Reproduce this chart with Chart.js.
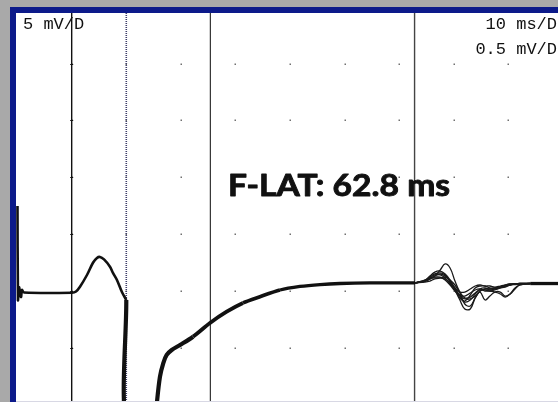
<!DOCTYPE html>
<html>
<head>
<meta charset="utf-8">
<title>F-wave</title>
<script src="https://cdn.jsdelivr.net/npm/chart.js@4/dist/chart.umd.min.js"></script>
<style>
  html, body { margin: 0; padding: 0; background: #a9a9a9; }
  #wrap { position: relative; width: 558px; height: 402px; }
  canvas { display: block; }
</style>
</head>
<body>
<div id="wrap"><canvas id="c" width="558" height="402"></canvas></div>
<script>
// Sweep: 10 ms/div, stimulus at 0 ms, 10 ms pre-trigger
const sweepMs = [-10.2, 89.07];
const gridMs = [0, 10, 20, 30, 40, 50, 60, 70, 80];
// Late-response gain 0.5 mV/div, early (M) gain 5 mV/div
const rangeF = [-0.970, 2.445];
const gridF = [2.0, 1.5, 1.0, 0.5, 0.0, -0.5];
const gainRatio = 10;

// Cursor positions (ms)
const cursorsMs = [0, 10, 25.4];
const fLatency = 62.8;

// Early segment, displayed at 5 mV/D
const mTime = [-9.93, -9.84, -9.65, -9.29, -9.10, -8.74, 0.05, 0.79, 1.52, 2.80, 3.90, 4.63, 5.18, 5.92, 7.01, 7.56, 8.29, 9.20, 10.0];
const mVolt = [7.46, -0.81, 0.33, -0.55, 0.07, -0.15, -0.17, -0.06, 0.36, 1.39, 2.47, 2.89, 2.98, 2.76, 2.12, 1.57, 0.95, -0.11, -0.81];

// Late segment, displayed at 0.5 mV/D (M tail clipped below the screen)
const lTime = [10.0, 10.13, 15.20, 15.62, 16.17, 16.78, 17.40, 18.32, 19.84, 22.22, 25.33, 28.39, 31.37, 34.49, 38.15, 41.81, 45.48, 49.14, 54.63, 62.88, 70.0, 84.0, 89.07];
const lVolt = [-0.081, -1.23, -1.23, -0.98, -0.756, -0.636, -0.565, -0.521, -0.477, -0.404, -0.283, -0.184, -0.107, -0.052, 0.007, 0.038, 0.055, 0.064, 0.069, 0.069, null, 0.064, 0.064];

// Superimposed F responses
const fTime = [62.9, 64.7, 65.6, 66.5, 67.5, 68.4, 69.3, 70.2, 71.1, 72.0, 73.0, 73.9, 74.8, 75.7, 76.6, 77.5, 78.5, 79.4, 80.3, 81.2, 82.1, 84.0];
const fTrace1 = [0.069, 0.086, 0.104, 0.130, 0.183, 0.236, 0.201, 0.086, -0.011, -0.063, -0.055, -0.019, 0.007, 0.007, -0.002, -0.011, -0.028, -0.055, -0.028, 0.025, 0.051, 0.064];
const fTrace2 = [0.069, 0.095, 0.130, 0.165, 0.174, 0.148, 0.095, 0.007, -0.081, -0.160, -0.160, -0.063, -0.002, 0.016, 0.016, 0.025, 0.033, 0.042, 0.051, 0.055, 0.060, 0.064];
const fTrace3 = [0.069, 0.086, 0.113, 0.139, 0.139, 0.113, 0.060, 0.007, -0.063, -0.090, -0.037, 0.025, 0.042, 0.042, 0.025, 0.025, 0.033, 0.042, 0.051, 0.060, 0.060, 0.064];
const fTrace4 = [0.069, 0.086, 0.104, 0.130, 0.148, 0.130, 0.086, 0.025, -0.037, -0.046, -0.019, 0.007, 0.016, -0.002, -0.002, 0.007, 0.025, 0.051, 0.060, 0.060, 0.064, 0.064];
const fTrace5 = [0.069, 0.077, 0.086, 0.104, 0.113, 0.121, 0.095, 0.051, -0.019, -0.116, -0.134, -0.063, -0.002, 0.016, 0.016, 0.016, 0.025, 0.033, 0.051, 0.060, 0.060, 0.064];
const fTrace6 = [0.069, 0.086, 0.104, 0.113, 0.113, 0.104, 0.069, 0.025, -0.011, -0.011, 0.016, 0.042, 0.051, 0.042, 0.042, 0.033, 0.042, 0.051, 0.060, 0.060, 0.064, 0.064];
const fTrace7 = [0.069, 0.095, 0.113, 0.121, 0.121, 0.095, 0.051, -0.002, -0.046, -0.072, -0.072, -0.046, -0.011, -0.081, -0.046, -0.011, -0.011, -0.046, -0.028, 0.016, 0.051, 0.064];
const fTrace8 = [0.069, 0.090, 0.121, 0.148, 0.157, 0.139, 0.077, 0.016, -0.046, -0.099, -0.081, -0.028, 0.016, 0.025, 0.007, 0.016, 0.033, 0.042, 0.055, 0.060, 0.064, 0.064];
const fTraces = [fTrace1, fTrace2, fTrace3, fTrace4, fTrace5, fTrace6, fTrace7, fTrace8];

const labelEarlyGain = '5 mV/D';
const labelSweep = '10 ms/D';
const labelLateGain = '0.5 mV/D';

const pts = (t, v) => t.map((x, i) => ({ x: x, y: v[i] }));

// superimposed sweeps spread a little on the steep recovery, tapering to the baseline
const recoveryWidth = c => {
  const t = c.p0.parsed.x;
  if (t < 22) return 4.2;
  if (t < 30) return 3.9;
  if (t < 38) return 3.6;
  return 3.3;
};

const datasets = [
  { data: pts(mTime, mVolt), yAxisID: 'yM', borderColor: '#111', borderWidth: 2.6, tension: 0.3 },
  {
    data: pts(lTime, lVolt), yAxisID: 'yF', borderColor: '#111', borderWidth: 3.3, tension: 0.3, spanGaps: false,
    segment: { borderWidth: recoveryWidth }
  }
];
fTraces.forEach(tr => datasets.push({
  data: pts(fTime, tr), yAxisID: 'yF', borderColor: '#1a1a1a', borderWidth: 1.3, tension: 0.4
}));

const screenPlugin = {
  id: 'screen',
  beforeDraw(chart) {
    const { ctx, chartArea: a, width, height } = chart;
    ctx.save();
    ctx.fillStyle = '#a9a9a9';
    ctx.fillRect(0, 0, width, height);
    ctx.fillStyle = '#0c1a8a';
    ctx.fillRect(10, 7, width - 10, height - 7);
    ctx.fillStyle = '#d8d8e4';
    ctx.fillRect(a.left, a.bottom, width - a.left, height - a.bottom);
    ctx.fillStyle = '#ffffff';
    ctx.fillRect(a.left, a.top, a.right - a.left, a.bottom - a.top);

    const xs = chart.scales.x, ys = chart.scales.yF;
    // grid dots at division intersections
    ctx.fillStyle = '#707070';
    gridMs.forEach(t => {
      const px = Math.round(xs.getPixelForValue(t));
      gridF.forEach(v => {
        const py = Math.round(ys.getPixelForValue(v));
        ctx.fillRect(px - 0.5, py - 0.5, 1.5, 1.5);
      });
    });

    // cursors
    ctx.beginPath();
    ctx.rect(a.left, a.top, a.right - a.left, a.bottom - a.top);
    ctx.clip();
    const cx0 = xs.getPixelForValue(cursorsMs[0]);
    ctx.strokeStyle = '#111';
    ctx.lineWidth = 1.4;
    ctx.beginPath(); ctx.moveTo(cx0, a.top); ctx.lineTo(cx0, a.bottom); ctx.stroke();
    ctx.lineWidth = 1;
    gridF.forEach(v => {
      const py = Math.round(ys.getPixelForValue(v)) + 0.5;
      ctx.beginPath(); ctx.moveTo(cx0 - 1.5, py); ctx.lineTo(cx0 + 1.5, py); ctx.stroke();
    });

    const cx1 = xs.getPixelForValue(cursorsMs[1]);
    ctx.strokeStyle = '#3c3c68';
    ctx.lineWidth = 1.6;
    ctx.setLineDash([1, 1]);
    ctx.beginPath(); ctx.moveTo(cx1, a.top); ctx.lineTo(cx1, a.bottom); ctx.stroke();
    ctx.setLineDash([]);

    const cx2 = xs.getPixelForValue(cursorsMs[2]);
    ctx.strokeStyle = '#333';
    ctx.lineWidth = 1.2;
    ctx.beginPath(); ctx.moveTo(cx2, a.top); ctx.lineTo(cx2, a.bottom); ctx.stroke();

    const cx3 = xs.getPixelForValue(fLatency);
    ctx.strokeStyle = '#444';
    ctx.lineWidth = 1.4;
    ctx.beginPath(); ctx.moveTo(cx3, a.top); ctx.lineTo(cx3, a.bottom); ctx.stroke();
    ctx.restore();
  },
  afterDraw(chart) {
    const { ctx } = chart;
    ctx.save();
    ctx.fillStyle = '#111';
    ctx.font = '17px "Liberation Mono", monospace';
    ctx.textBaseline = 'alphabetic';
    ctx.textAlign = 'left';
    ctx.fillText(labelEarlyGain, 23, 29);
    ctx.textAlign = 'right';
    ctx.fillText(labelSweep, 557, 29);
    ctx.fillText(labelLateGain, 557, 54);

    // latency readout, widened to the geometric face of the instrument
    const txt = 'F-LAT: ' + fLatency.toFixed(1) + ' ms';
    ctx.font = 'bold 30px Lato, "Noto Sans", sans-serif';
    ctx.textAlign = 'left';
    const w = ctx.measureText(txt).width;
    const sx = 222 / w;
    ctx.translate(228, 196);
    ctx.scale(sx, 1);
    ctx.strokeStyle = '#111';
    ctx.lineWidth = 0.9;
    ctx.lineJoin = 'round';
    ctx.fillText(txt, 0, 0);
    ctx.strokeText(txt, 0, 0);
    ctx.restore();
  }
};

new Chart(document.getElementById('c'), {
  type: 'line',
  data: { datasets: datasets },
  options: {
    responsive: false,
    animation: false,
    events: [],
    layout: { padding: { left: 16, top: 13, right: 0, bottom: 1 } },
    elements: { point: { radius: 0 } },
    plugins: { legend: { display: false }, tooltip: { enabled: false } },
    scales: {
      x: { type: 'linear', display: false, min: sweepMs[0], max: sweepMs[1] },
      yF: { type: 'linear', display: false, min: rangeF[0], max: rangeF[1] },
      yM: { type: 'linear', display: false, min: rangeF[0] * gainRatio, max: rangeF[1] * gainRatio }
    }
  },
  plugins: [screenPlugin]
});
</script>
</body>
</html>
